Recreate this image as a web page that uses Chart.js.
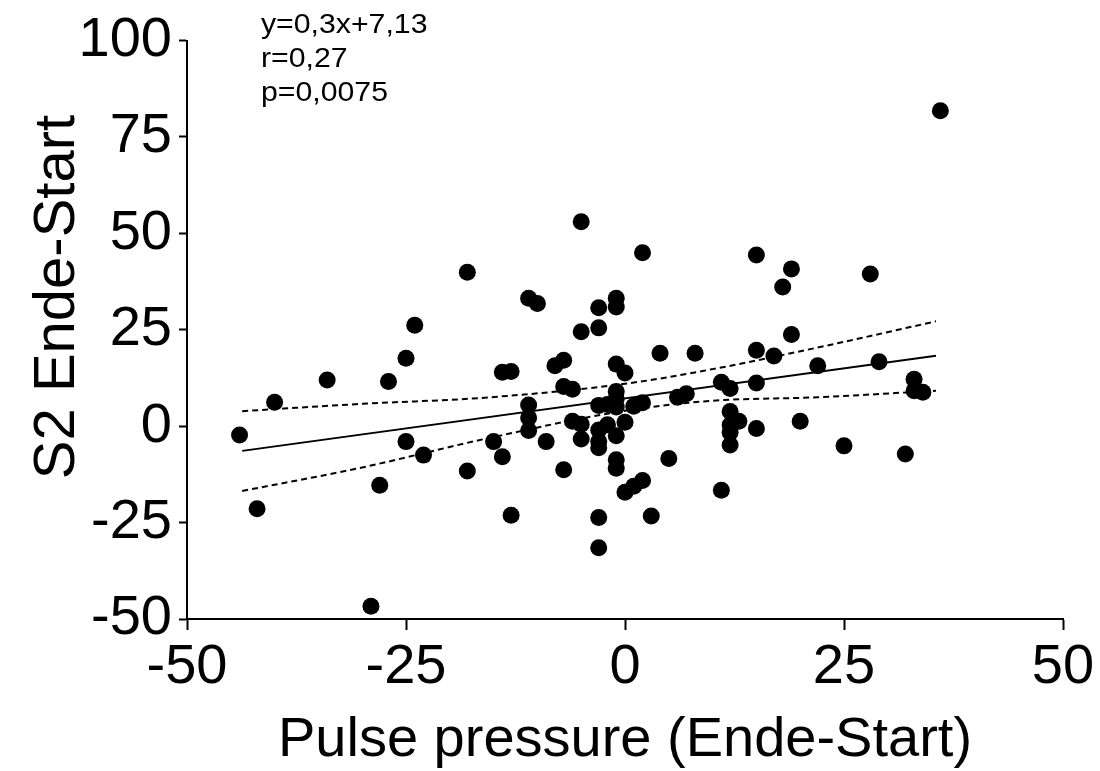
<!DOCTYPE html>
<html>
<head>
<meta charset="utf-8">
<title>S2 Ende-Start vs Pulse pressure</title>
<script src="https://cdn.jsdelivr.net/npm/chart.js@4/dist/chart.umd.min.js"></script>
<style>
    html, body { margin: 0; padding: 0; background: #fff; }
    #wrap { width: 1100px; height: 771px; }
</style>
</head>
<body>
<div id="wrap"><canvas id="chart" width="1100" height="771"></canvas></div>
<script>
// Scatter data
const pointsX = [
    -44, -42, -40, -34, -29, -28, -27, -25, -25, -24, -23, -18, -18, -15, -14, -13, -14, -13,
    -11, -10, -11, -11, -11, -9, -8, -7, -7, -6, -7, -6, -5, -5, -5, -5,
    -3, -3, -3, -3, -3, -3, -3, -3, -2, -2,
    -1, -1, -1, -1, -1, -1, -1, -1, -1,
    0, 0, 0, 1, 1, 2, 2, 2, 3, 4, 5, 6, 7, 8,
    11, 11, 12, 12, 13, 12, 12, 12, 15, 15, 15, 15, 17, 18, 19, 19, 20, 22, 25, 28, 29, 32, 33, 33, 34, 36
];
const pointsY = [
    -2.3, -21.4, 6.2, 12.0, -46.7, -15.3, 11.6, 17.6, -4.0, 26.2, -7.5, 39.9, -11.6, -4.0, 14.0, 14.2, -7.9, -23.1,
    33.2, 31.8, 5.5, 2.2, -1.1, -4.0, 15.7, 17.1, 10.3, 9.6, -11.3, 1.3, 0.5, -3.3, 24.5, 53.0,
    25.5, 30.7, 5.4, -1.0, -4.0, -5.6, -23.7, -31.5, 0.4, 5.6,
    33.2, 30.9, 16.1, 9.0, 7.1, 5.0, -2.5, -8.7, -10.9,
    13.8, 1.0, -17.1, 5.2, -15.6, 6.1, 45.0, -14.1, -23.3, 18.9, -8.4, 7.5, 8.4, 18.9,
    11.4, -16.6, 9.8, 3.8, 1.3, 0.3, -1.6, -4.9, 44.4, 19.7, 11.2, -0.6, 18.2, 36.1, 40.8, 23.8, 1.3, 15.7, -5.1, 39.5, 16.7, -7.2, 12.2, 9.2, 8.8, 81.8
];

// Regression line and 95% band
const fitX = [-43.7, 35.5];
const fitY = [-6.4, 18.25];
const bandX = [-43.7, -30, -16, 0, 10, 22, 35.5];
const bandUpper = [3.9, 5.8, 7.4, 11.0, 14.8, 20.4, 27.2];
const bandLower = [-16.8, -10.7, -3.3, 4.0, 6.6, 7.5, 9.2];

const xTicks = [-50, -25, 0, 25, 50];
const yTicks = [-50, -25, 0, 25, 50, 75, 100];

const statLines = ['y=0,3x+7,13', 'r=0,27', 'p=0,0075'];

const FONT = "'Liberation Sans', Arial, sans-serif";

function pairs(xs, ys) {
    return xs.map((x, i) => ({ x: x, y: ys[i] }));
}

// stats text (slightly wide, like the exported figure) and the y title
const textPlugin = {
    id: 'figText',
    afterDraw(chart) {
        const ctx = chart.ctx;
        ctx.save();
        ctx.fillStyle = '#000';
        ctx.textBaseline = 'alphabetic';
        ctx.textAlign = 'left';
        ctx.font = '28px ' + FONT;
        statLines.forEach((txt, i) => {
            ctx.save();
            ctx.translate(261, 33 + i * 34);
            ctx.scale(1.08, 1);
            ctx.fillText(txt, 0, 0);
            ctx.restore();
        });

        // y axis title sits a bit above the middle of the axis
        ctx.translate(74, 297);
        ctx.rotate(-Math.PI / 2);
        ctx.textAlign = 'center';
        ctx.font = '58px ' + FONT;
        ctx.fillText('S2 Ende-Start', 0, 0);
        ctx.restore();
    }
};

const lineStyle = {
    showLine: true,
    pointRadius: 0,
    borderColor: '#000',
    borderWidth: 2,
    fill: false
};

new Chart(document.getElementById('chart'), {
    type: 'scatter',
    data: {
        datasets: [
            {
                label: 'data',
                data: pairs(pointsX, pointsY),
                pointRadius: 8.5,
                pointBackgroundColor: '#000',
                pointBorderColor: '#000',
                pointBorderWidth: 0
            },
            Object.assign({ label: 'fit', data: pairs(fitX, fitY) }, lineStyle),
            Object.assign({ label: 'upper', data: pairs(bandX, bandUpper), borderDash: [6, 4], cubicInterpolationMode: 'monotone' }, lineStyle),
            Object.assign({ label: 'lower', data: pairs(bandX, bandLower), borderDash: [6, 4], cubicInterpolationMode: 'monotone' }, lineStyle)
        ]
    },
    options: {
        responsive: false,
        animation: false,
        layout: { padding: { top: 35, right: 37, bottom: 0, left: 0 } },
        plugins: {
            legend: { display: false },
            tooltip: { enabled: false }
        },
        scales: {
            x: {
                type: 'linear',
                min: -50,
                max: 50,
                afterBuildTicks: (s) => { s.ticks = xTicks.map(v => ({ value: v })); },
                afterFit: (s) => { s.height = 152; },
                grid: { drawOnChartArea: false, drawTicks: true, tickLength: 11, tickColor: '#000', tickWidth: 2 },
                border: { display: true, color: '#000', width: 2 },
                ticks: { color: '#000', padding: 4, maxRotation: 0, font: { family: FONT, size: 56 } },
                title: {
                    display: true,
                    text: 'Pulse pressure (Ende-Start)',
                    color: '#000',
                    padding: { top: 0, bottom: -3 },
                    font: { family: FONT, size: 56 }
                }
            },
            y: {
                type: 'linear',
                min: -50,
                max: 100,
                afterBuildTicks: (s) => { s.ticks = yTicks.map(v => ({ value: v })); },
                afterFit: (s) => { s.width = 187; },
                grid: { drawOnChartArea: false, drawTicks: true, tickLength: 8, tickColor: '#000', tickWidth: 2 },
                border: { display: true, color: '#000', width: 2 },
                ticks: { color: '#000', padding: 7, font: { family: FONT, size: 56 } }
            }
        }
    },
    plugins: [textPlugin]
});
</script>
</body>
</html>
